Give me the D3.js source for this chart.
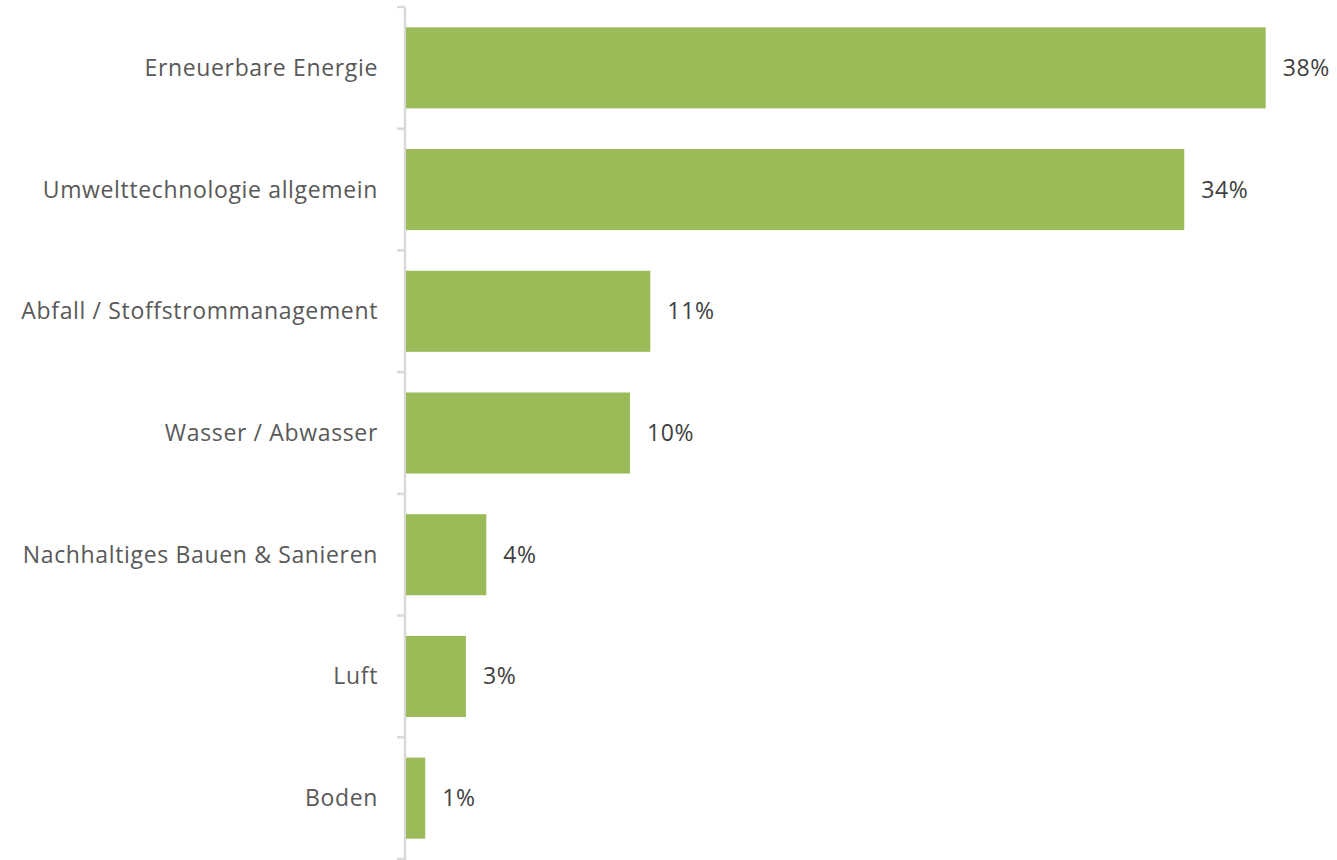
<!DOCTYPE html>
<html><head><meta charset="utf-8">
<script src="https://cdn.jsdelivr.net/npm/d3@7"></script>
<style>body{margin:0;background:#fff;} text{font-family:"Open Sans",sans-serif;letter-spacing:0.65px;}</style>
</head><body>
<svg id="c" width="1337" height="860"></svg>
<script>
const categories = ["Erneuerbare Energie","Umwelttechnologie allgemein","Abfall / Stoffstrommanagement","Wasser / Abwasser","Nachhaltiges Bauen & Sanieren","Luft","Boden"];
const values = [38.0, 34.4, 10.8, 9.9, 3.55, 2.65, 0.85];
const valueLabels = ["38%","34%","11%","10%","4%","3%","1%"];

const svg = d3.select("#c");
const x = d3.scaleLinear().domain([0, 38.0]).range([406, 1265.7]);
const y = d3.scaleBand().domain(categories).range([7, 859]).paddingInner(0.334).paddingOuter(0.167);

svg.append("line").attr("x1",405).attr("x2",405).attr("y1",7).attr("y2",860)
  .attr("stroke","#d9d9d9").attr("stroke-width",2.5);
const bounds = categories.map(c => y(c) - y.step()*y.paddingInner()/2).concat([y(categories[categories.length-1]) + y.bandwidth() + y.step()*y.paddingInner()/2]);
svg.selectAll("line.tk").data(bounds).join("line").attr("class","tk")
  .attr("x1",397).attr("x2",405).attr("y1",d=>d).attr("y2",d=>d)
  .attr("stroke","#d9d9d9").attr("stroke-width",2.5);

svg.selectAll("rect.bar").data(categories).join("rect").attr("class","bar")
  .attr("x", x(0)).attr("y", c=>y(c)).attr("height", y.bandwidth())
  .attr("width", (c,i)=>x(values[i]) - x(0)).attr("fill","#9bbb59");

svg.selectAll("text.cat").data(categories).join("text").attr("class","cat")
  .attr("x",378).attr("y",c=>y(c)+y.bandwidth()/2).attr("dy","0.35em")
  .attr("text-anchor","end").attr("fill","#595959").attr("font-size",23).text(c=>c);

svg.selectAll("text.val").data(categories).join("text").attr("class","val")
  .attr("x",(c,i)=>x(values[i])+17).attr("y",c=>y(c)+y.bandwidth()/2).attr("dy","0.35em")
  .attr("fill","#404040").attr("font-size",23).text((c,i)=>valueLabels[i]);
</script>
</body></html>
